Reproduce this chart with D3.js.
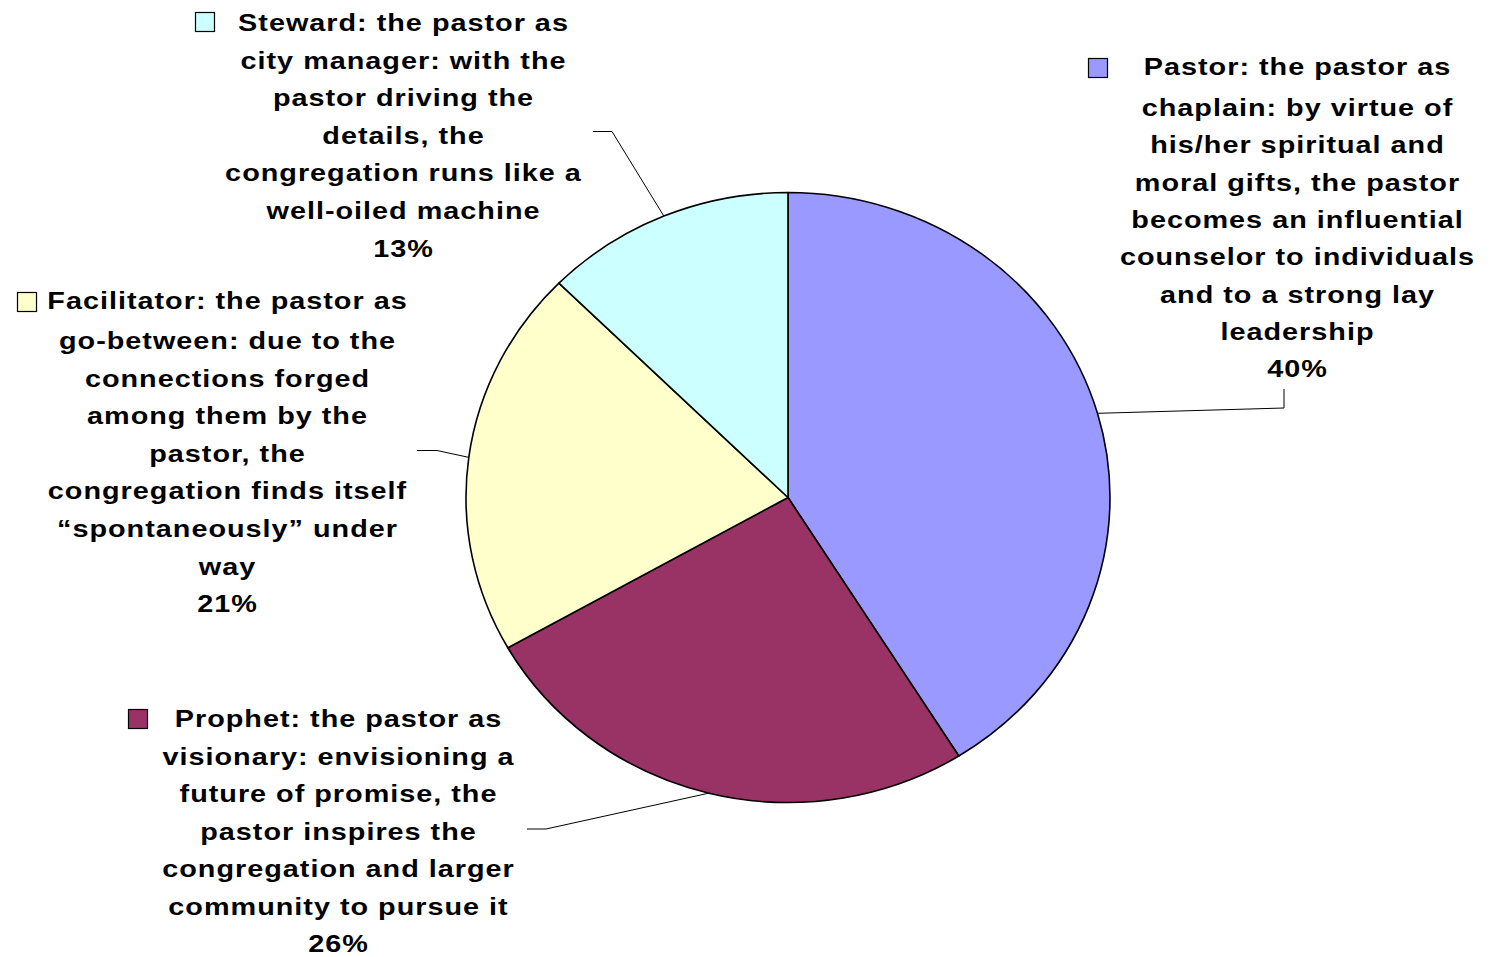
<!DOCTYPE html>
<html>
<head>
<meta charset="utf-8">
<script src="https://cdn.jsdelivr.net/npm/d3@7"></script>
<style>
  html, body { margin: 0; padding: 0; background: #fff; }
  svg { display: block; }
  text { font-family: "Liberation Sans", Arial, sans-serif; font-weight: bold; fill: #000; }
</style>
</head>
<body>
<svg id="chart" width="1497" height="957"></svg>
<script>
// ---- data ----
const categories = ["Pastor", "Prophet", "Facilitator", "Steward"];
const values = [41.1, 25.7, 20.6, 12.6];
// percentage labels as printed on the chart
const percentLabels = ["40%", "26%", "21%", "13%"];
const colors = ["#9999FF", "#993366", "#FFFFCC", "#CCFFFF"];
const labelLines = [
  ["Pastor: the pastor as", "chaplain: by virtue of", "his/her spiritual and", "moral gifts, the pastor",
   "becomes an influential", "counselor to individuals", "and to a strong lay", "leadership"],
  ["Prophet: the pastor as", "visionary: envisioning a", "future of promise, the", "pastor inspires the",
   "congregation and larger", "community to pursue it"],
  ["Facilitator: the pastor as", "go-between: due to the", "connections forged", "among them by the",
   "pastor, the", "congregation finds itself", "\u201Cspontaneously\u201D under", "way"],
  ["Steward: the pastor as", "city manager: with the", "pastor driving the", "details, the",
   "congregation runs like a", "well-oiled machine"]
];

// ---- layout ----
const cx = 788, cy = 497.5, rx = 322, ry = 305;
const layout = [
  { x: 1297, y1: 75,  y2: 116, step: 37.35, key: [1088, 58],  elbow: [[1284, 408], [1284, 389]] },
  { x: 338,  y1: 727, y2: 765, step: 37.4,  key: [128, 709],  elbow: [[546, 829], [527, 829]] },
  { x: 227,  y1: 309, y2: 349, step: 37.6,  key: [17, 292],   elbow: [[437, 450.5], [417, 450.5]] },
  { x: 403,  y1: 30.5, y2: 68.5, step: 37.6, key: [195, 12],  elbow: [[612, 131.5], [593, 131.5]] }
];
const fontSize = 24, stretchX = 1.2, letterSpacing = 1.0, keySize = 19;

const svg = d3.select("#chart");
const pie = d3.pie().sort(null).value(d => d).startAngle(0).endAngle(2 * Math.PI);
const arcs = pie(values);
const arc = d3.arc().innerRadius(0).outerRadius(rx);

// leader lines
const lines = svg.append("g");
arcs.forEach((a, i) => {
  const m = (a.startAngle + a.endAngle) / 2;
  const p0 = [cx + rx * Math.sin(m), cy - ry * Math.cos(m)];
  const pts = [p0].concat(layout[i].elbow);
  lines.append("path")
    .attr("d", d3.line()(pts))
    .attr("fill", "none")
    .attr("stroke", "#000")
    .attr("stroke-width", 1);
});

// pie
const g = svg.append("g").attr("transform", `translate(${cx},${cy}) scale(1,${ry / rx})`);
g.selectAll("path.slice")
  .data(arcs)
  .join("path")
  .attr("class", "slice")
  .attr("d", arc)
  .attr("fill", (d, i) => colors[i])
  .attr("stroke", "#000")
  .attr("stroke-width", 1.6)
  .attr("stroke-linejoin", "round")
  .attr("vector-effect", "non-scaling-stroke");

// labels
labelLines.forEach((ls, i) => {
  const L = layout[i];
  const all = ls.concat([percentLabels[i]]);
  const t = svg.append("g");
  all.forEach((s, j) => {
    const y = j === 0 ? L.y1 : L.y2 + (j - 1) * L.step;
    t.append("g")
      .attr("transform", `translate(${L.x + letterSpacing / 2},${y}) scale(${stretchX},1)`)
      .append("text")
      .attr("x", 0)
      .attr("y", 0)
      .attr("text-anchor", "middle")
      .style("font-size", fontSize + "px")
      .style("letter-spacing", (letterSpacing / stretchX) + "px")
      .text(s);
  });
  svg.append("rect")
    .attr("x", L.key[0] + 0.5)
    .attr("y", L.key[1] + 0.5)
    .attr("width", keySize)
    .attr("height", keySize)
    .attr("fill", colors[i])
    .attr("stroke", "#000")
    .attr("stroke-width", 1.2);
});
</script>
</body>
</html>
